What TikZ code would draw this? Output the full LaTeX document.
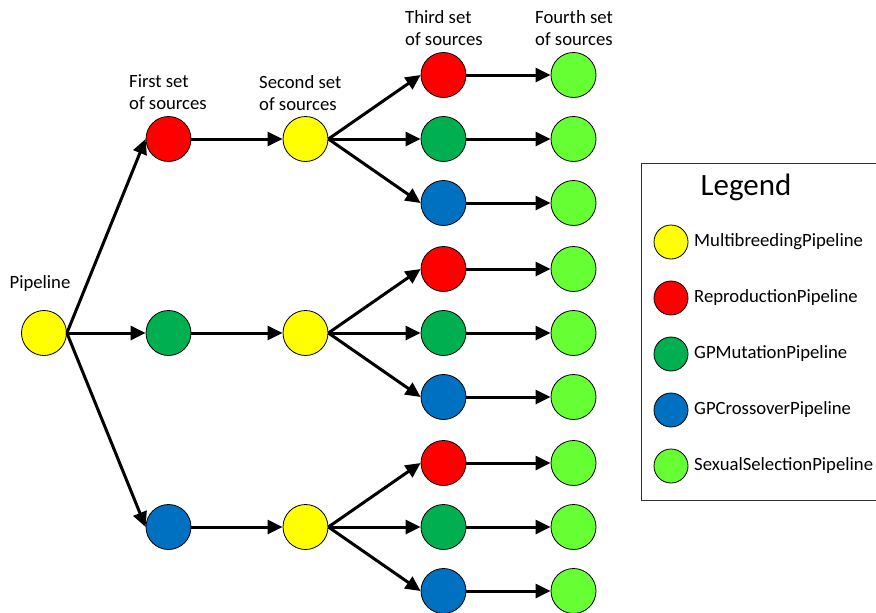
\documentclass[tikz,border=0pt]{standalone}
\usepackage{fontspec}
\setmainfont{Carlito}
\usetikzlibrary{arrows.meta}
\definecolor{cyellow}{HTML}{FFFF00}
\definecolor{cred}{HTML}{FF0000}
\definecolor{cgreen}{HTML}{00B050}
\definecolor{cblue}{HTML}{0070C0}
\definecolor{clime}{HTML}{66FF33}
\begin{document}
\begin{tikzpicture}[x=1pt,y=-1pt,
  pnode/.style={circle,draw=black,line width=0.8pt,minimum size=45pt,inner sep=0pt},
  lnode/.style={circle,draw=black,line width=0.8pt,minimum size=34pt,inner sep=0pt},
  link/.style={line width=3pt,-{Triangle[length=15pt,width=14pt]}},
  lbl/.style={font=\fontsize{18.7}{22}\selectfont,align=left,inner sep=0pt},
  ltext/.style={font=\fontsize{18.7}{22}\selectfont,anchor=west,inner sep=0pt}]
\useasboundingbox (0,0) rectangle (876,613);

% root
\node[pnode,fill=cyellow] (root) at (44,333) {};
\node[lbl] (lroot) at (40,284) {Pipeline};

% first set
\node[pnode,fill=cred]   (f1) at (168.5,139) {};
\node[pnode,fill=cgreen] (f2) at (168.5,333) {};
\node[pnode,fill=cblue]  (f3) at (168.5,527) {};

% second set
\node[pnode,fill=cyellow] (s1) at (305.5,139) {};
\node[pnode,fill=cyellow] (s2) at (305.5,333) {};
\node[pnode,fill=cyellow] (s3) at (305.5,527) {};

% third and fourth sets
\foreach \g/\yc in {1/139,2/333,3/527}{
  \node[pnode,fill=cred]   (t\g a) at (443.5,\yc-64) {};
  \node[pnode,fill=cgreen] (t\g b) at (443.5,\yc) {};
  \node[pnode,fill=cblue]  (t\g c) at (443.5,\yc+64) {};
  \node[pnode,fill=clime]  (q\g a) at (573.5,\yc-64) {};
  \node[pnode,fill=clime]  (q\g b) at (573.5,\yc) {};
  \node[pnode,fill=clime]  (q\g c) at (573.5,\yc+64) {};
}

% column labels
\node[lbl,anchor=west] (l1) at (129,92) {First set\\of sources};
\node[lbl,anchor=west] (l2) at (259,93) {Second set\\of sources};
\node[lbl,anchor=west] (l3) at (405,28) {Third set\\of sources};
\node[lbl,anchor=west] (l4) at (535,28) {Fourth set\\of sources};

% connectors
\foreach \i in {1,2,3}{
  \draw[link] (root.east) -- (f\i.west);
  \draw[link] (f\i.east) -- (s\i.west);
  \foreach \k in {a,b,c}{
    \draw[link] (s\i.east) -- (t\i\k.west);
    \draw[link] (t\i\k.east) -- (q\i\k.west);
  }
}

% legend
\draw[line width=1pt,draw=black!80] (880,163) -- (641,163) -- (641,500) -- (880,500);
\node[font=\fontsize{31}{36}\selectfont,inner sep=0pt] (ltitle) at (746,187) {Legend};
\node[lnode,fill=cyellow] (k1) at (671,242) {};
\node[lnode,fill=cred]    (k2) at (671,298) {};
\node[lnode,fill=cgreen]  (k3) at (671,354) {};
\node[lnode,fill=cblue]   (k4) at (671,410) {};
\node[lnode,fill=clime]   (k5) at (671,466) {};
\node[ltext] (t1) at (694,242) {MultibreedingPipeline};
\node[ltext] (t2) at (694,298) {ReproductionPipeline};
\node[ltext] (t3) at (694,354) {GPMutationPipeline};
\node[ltext] (t4) at (694,410) {GPCrossoverPipeline};
\node[ltext] (t5) at (694,466) {SexualSelectionPipeline};
\end{tikzpicture}
\end{document}
